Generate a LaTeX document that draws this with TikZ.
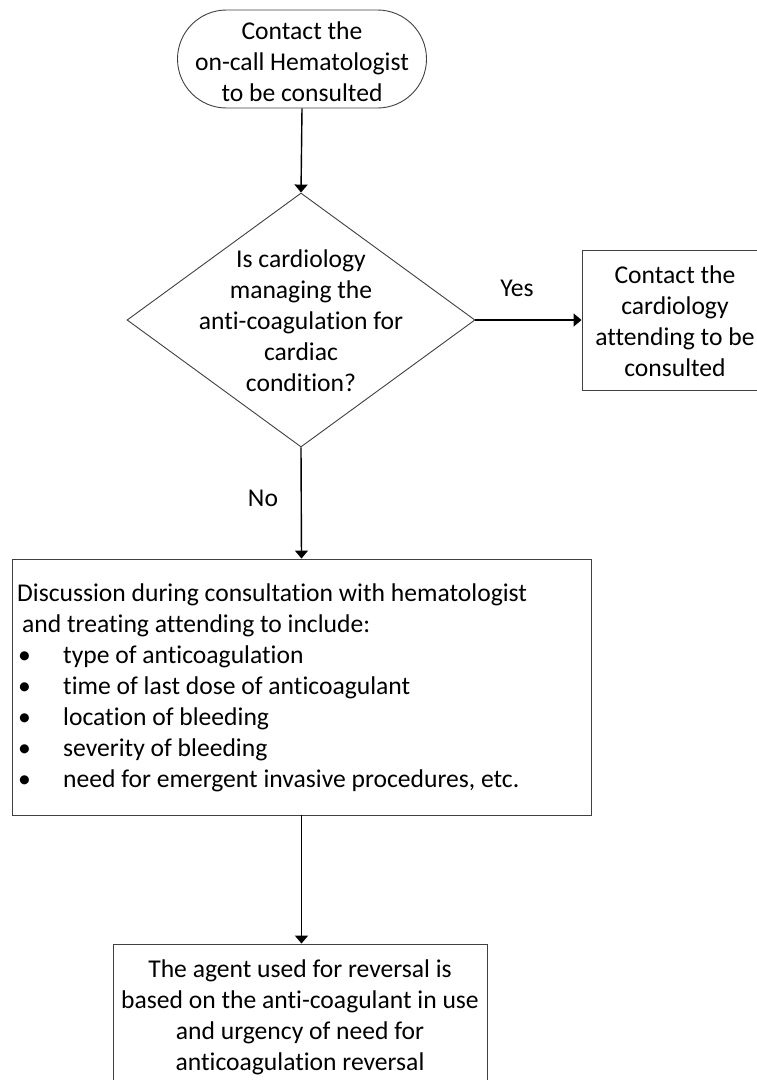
\documentclass[tikz,border=0pt]{standalone}
\usepackage{fontspec}
\setmainfont{Carlito}[Ligatures=NoCommon]
\usetikzlibrary{shapes.geometric,arrows.meta}
\newcommand{\bul}{\makebox[46pt][l]{\hspace*{1pt}•}}
\begin{document}
\begin{tikzpicture}[x=1pt,y=-1pt,
  box/.style={draw=black!75,line width=0.9pt,fill=white,inner sep=0pt},
  conn/.style={line width=1.4pt,-{Triangle[length=8pt,width=13pt]}},
  txt/.style={align=center,inner sep=0pt,font=\fontsize{25.6}{31}\selectfont},
  lbl/.style={inner sep=0pt,font=\fontsize{25.6}{31}\selectfont}]
\useasboundingbox (0,0) rectangle (757,1080);
\node[box,rounded corners=49pt,minimum width=249pt,minimum height=98pt] (term) at (302,59) {};
\node[txt] (termtxt) at (302,62) {Contact the\\on-call Hematologist\\to be consulted};
\node[box,diamond,minimum width=348pt,minimum height=254pt] (dec) at (301,320) {};
\node[txt] (dectxt) at (301,321) {Is cardiology\\managing the\\anti-coagulation for\\cardiac\\condition?};
\node[box,minimum width=186pt,minimum height=140pt] (card) at (675,320) {};
\node[txt] (cardtxt) at (675,321) {Contact the\\cardiology\\attending to be\\consulted};
\node[box,minimum width=579pt,minimum height=256pt] (disc) at (301.5,687) {};
\node[lbl,anchor=west,align=left] (disctxt) at (17,688) {Discussion during consultation with hematologist\\
\hspace*{5pt}and treating attending to include:\\
\bul type of anticoagulation\\
\bul time of last dose of anticoagulant\\
\bul location of bleeding\\
\bul severity of bleeding\\
\bul need for emergent invasive procedures, etc.};
\node[box,minimum width=374pt,minimum height=148pt] (rev) at (300,1018) {};
\node[txt] (revtxt) at (300,1017) {The agent used for reversal is\\based on the anti-coagulant in use\\and urgency of need for\\anticoagulation reversal};
\draw[conn] (term.south) -- (dec.north);
\draw[conn] (dec.east) -- (card.west);
\node[lbl] (yes) at (517,288) {Yes};
\draw[conn] (dec.south) -- (disc.north);
\node[lbl] (no) at (263,498) {No};
\draw[conn] (disc.south) -- (disc.south |- rev.north);
\end{tikzpicture}
\end{document}
